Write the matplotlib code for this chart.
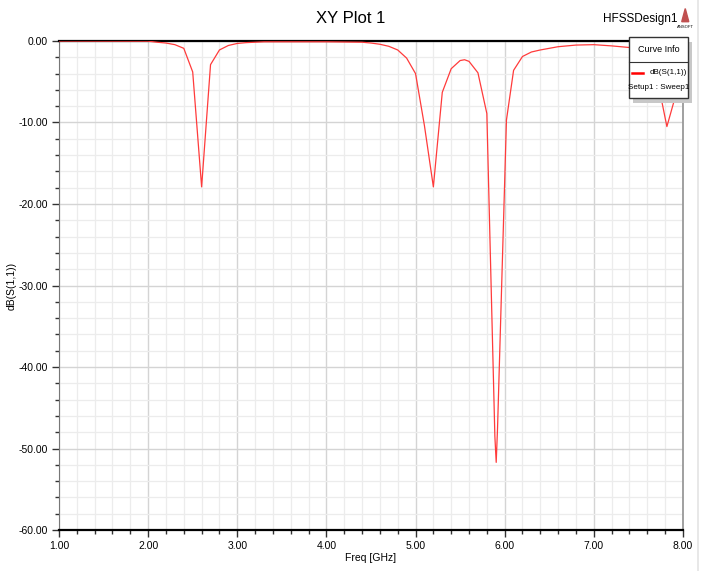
import matplotlib
matplotlib.use("Agg")
import matplotlib.pyplot as plt
from matplotlib.ticker import MultipleLocator, FormatStrFormatter
from matplotlib.patches import Rectangle, Polygon
from matplotlib.lines import Line2D

plt.rcParams["font.family"] = ["Liberation Sans Narrow", "Liberation Sans", "DejaVu Sans"]

# S11 sweep
freq_ghz = [1.00, 2.00, 2.10, 2.20, 2.30, 2.40, 2.50, 2.60, 2.70, 2.80, 2.90,
            3.00, 3.10, 3.30, 4.00, 4.40, 4.50, 4.60, 4.70, 4.80, 4.90, 5.00,
            5.10, 5.20, 5.30, 5.40, 5.50, 5.55, 5.60, 5.70, 5.80, 5.89, 5.905,
            5.92, 6.02, 6.10, 6.20, 6.30, 6.40, 6.60, 6.80, 7.00, 7.20, 7.40,
            7.50, 7.60, 7.70, 7.82, 7.91, 8.00]
s11_db = [0.0, -0.02, -0.15, -0.25, -0.45, -0.9, -3.8, -17.9, -2.9, -1.1, -0.55,
          -0.3, -0.2, -0.1, -0.1, -0.15, -0.25, -0.4, -0.65, -1.1, -2.1, -4.0,
          -10.4, -17.9, -6.3, -3.4, -2.4, -2.3, -2.5, -3.9, -8.9, -48.5, -51.7,
          -47.5, -9.7, -3.6, -1.9, -1.35, -1.1, -0.7, -0.5, -0.45, -0.6, -0.8,
          -1.2, -2.0, -4.0, -10.5, -7.0, -2.5]

fig = plt.figure(figsize=(7.05, 5.71), dpi=100)
ax = fig.add_axes([0.0837, 0.0718, 0.885, 0.8564])

ax.plot(freq_ghz, s11_db, color="#ff3b3b", lw=0.9, zorder=3)

ax.set_xlim(1, 8)
ax.set_ylim(-60, 0)
ax.xaxis.set_major_locator(MultipleLocator(1))
ax.xaxis.set_minor_locator(MultipleLocator(0.2))
ax.yaxis.set_major_locator(MultipleLocator(10))
ax.yaxis.set_minor_locator(MultipleLocator(2))
ax.xaxis.set_major_formatter(FormatStrFormatter("%.2f"))
ax.yaxis.set_major_formatter(FormatStrFormatter("%.2f"))

ax.grid(which="major", color="#d4d4d4", lw=1.0)
ax.grid(which="minor", color="#ececec", lw=0.9)
ax.set_axisbelow(True)

ax.tick_params(which="major", direction="out", length=5, width=1, color="#333333",
               labelsize=7.5, pad=3)
ax.tick_params(which="minor", direction="out", length=3, width=1, color="#333333")

for side in ["top", "bottom"]:
    ax.spines[side].set_color("black")
    ax.spines[side].set_linewidth(1.6)
ax.spines["left"].set_color("#777777")
ax.spines["right"].set_color("#999999")
ax.spines["right"].set_linewidth(1.3)

ax.set_xlabel("Freq [GHz]", fontsize=7.5, labelpad=1)
ax.set_ylabel("dB(S(1,1))", fontsize=7.5)
ax.yaxis.set_label_coords(-0.068, 0.5)

fig.text(0.497, 0.968, "XY Plot 1", ha="center", va="center", fontsize=12)
fig.text(0.908, 0.966, "HFSSDesign1", ha="center", va="center", fontsize=8.5)
fig.add_artist(Polygon([[0.967, 0.962], [0.977, 0.962], [0.972, 0.985]],
                       closed=True, transform=fig.transFigure, color="#c05050"))
fig.text(0.972, 0.953, "ANSOFT", ha="center", va="center", fontsize=3)
fig.add_artist(Line2D([0.99, 0.99], [0.0, 1.0], transform=fig.transFigure,
                      color="#e4e4e4", lw=1.2))

# Curve Info box
bx, by, bw, bh = 629 / 705, 1 - 98 / 571, 59 / 705, 61 / 571
fig.add_artist(Rectangle((bx + 0.006, by - 0.009), bw, bh, transform=fig.transFigure,
                         facecolor="#c8c8c8", edgecolor="none", zorder=4))
fig.add_artist(Rectangle((bx, by), bw, bh, transform=fig.transFigure,
                         facecolor="white", edgecolor="#333333", lw=1.0, zorder=5))
sep_y = 1 - 61.7 / 571
fig.add_artist(Line2D([bx, bx + bw], [sep_y, sep_y], transform=fig.transFigure,
                      color="#333333", lw=0.8, zorder=6))
fig.text(bx + bw / 2, 1 - 49 / 571, "Curve Info", ha="center", va="center",
         fontsize=6.5, zorder=6)
fig.add_artist(Line2D([bx + 0.004, bx + 0.020], [1 - 73 / 571] * 2,
                      transform=fig.transFigure, color="#ff0000", lw=1.8, zorder=6))
fig.text(bx + bw - 0.002, 1 - 73 / 571, "dB(S(1,1))", ha="right", va="center",
         fontsize=5.8, zorder=6)
fig.text(bx + bw / 2, 1 - 88 / 571, "Setup1 : Sweep1", ha="center", va="center",
         fontsize=5.8, zorder=6)

fig.savefig("out.png", dpi=100, facecolor="white")
